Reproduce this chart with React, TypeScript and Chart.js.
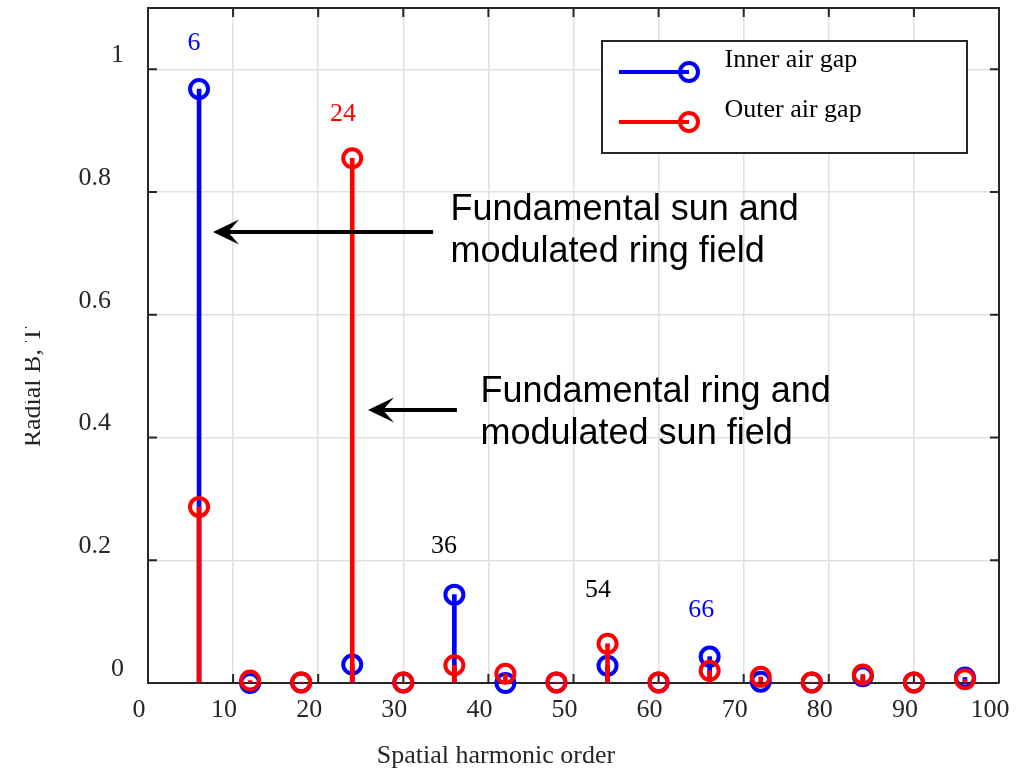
import React, { useEffect, useRef } from "react";
import { Chart, registerables } from "chart.js";

Chart.register(...registerables);

// ---- data ----
const harmonics = [6, 12, 18, 24, 30, 36, 42, 48, 54, 60, 66, 72, 78, 84, 90, 96];
const innerB = [0.968, 0.0, 0.001, 0.03, 0.001, 0.144, 0.0, 0.001, 0.028, 0.001, 0.043, 0.002, 0.001, 0.011, 0.001, 0.009];
const outerB = [0.287, 0.004, 0.001, 0.855, 0.001, 0.029, 0.015, 0.001, 0.064, 0.001, 0.02, 0.01, 0.001, 0.014, 0.001, 0.006];

const seriesNames = ["Inner air gap", "Outer air gap"];
const seriesColors = ["#0000ff", "#ff0000"];

const xTickValues = [0, 10, 20, 30, 40, 50, 60, 70, 80, 90, 100];
const yTickValues = [0, 0.2, 0.4, 0.6, 0.8, 1];
const yTickLabels = ["0", "0.2", "0.4", "0.6", "0.8", "1"];

const xTitle = "Spatial harmonic order";
const yTitle = "Radial B, T";

// harmonic order labels (data coordinates: x, baseline y)
const orderNotes = [
  { text: "6", x: 5.41, y: 1.0316, color: "#0000ff" },
  { text: "24", x: 22.91, y: 0.916, color: "#ff0000" },
  { text: "36", x: 34.78, y: 0.212, color: "#000000" },
  { text: "54", x: 52.88, y: 0.14, color: "#000000" },
  { text: "66", x: 65.0, y: 0.1076, color: "#0000ff" },
];

// arrow callouts (data coordinates)
const arrowNotes = [
  { tipX: 7.64, tailX: 33.5, y: 0.735, textX: 35.55, textY: 0.7546, lines: ["Fundamental sun and", "modulated ring field"] },
  { tipX: 25.85, tailX: 36.3, y: 0.445, textX: 39.07, textY: 0.458, lines: ["Fundamental ring and", "modulated sun field"] },
];

const AXIS = "#262626";
const SERIF = "'Liberation Serif', 'Times New Roman', serif";
const SANS = "'Liberation Sans', Arial, sans-serif";

const zeroPad = () => ({ left: 0, top: 0, right: 0, bottom: 0 });

const decorPlugin = {
  id: "decor",
  beforeDatasetsDraw(chart: any) {
    const { ctx, chartArea: a, scales } = chart;
    const x = scales.x;
    const y = scales.y;
    ctx.save();
    ctx.strokeStyle = AXIS;
    ctx.lineWidth = 2;
    ctx.beginPath();
    ctx.moveTo(a.left, a.top);
    ctx.lineTo(a.right, a.top);
    ctx.lineTo(a.right, a.bottom);
    ctx.stroke();
    const tl = 9;
    ctx.beginPath();
    x.ticks.forEach((t: any) => {
      const px = x.getPixelForValue(t.value);
      ctx.moveTo(px, a.bottom);
      ctx.lineTo(px, a.bottom - tl);
      ctx.moveTo(px, a.top);
      ctx.lineTo(px, a.top + tl);
    });
    y.ticks.forEach((t: any) => {
      const py = y.getPixelForValue(t.value);
      ctx.moveTo(a.left, py);
      ctx.lineTo(a.left + tl, py);
      ctx.moveTo(a.right, py);
      ctx.lineTo(a.right - tl, py);
    });
    ctx.stroke();
    ctx.restore();
  },
  afterDraw(chart: any) {
    const { ctx, chartArea: a, scales } = chart;
    const x = scales.x;
    const y = scales.y;
    ctx.save();

    // harmonic order labels
    ctx.font = `26px ${SERIF}`;
    ctx.textAlign = "center";
    ctx.textBaseline = "alphabetic";
    orderNotes.forEach((n) => {
      ctx.fillStyle = n.color;
      ctx.fillText(n.text, x.getPixelForValue(n.x), y.getPixelForValue(n.y));
    });

    // arrows + callout text
    arrowNotes.forEach((n) => {
      const tip = x.getPixelForValue(n.tipX);
      const tail = x.getPixelForValue(n.tailX);
      const yy = y.getPixelForValue(n.y);
      const L = 26, W = 12.5, notch = 15;
      ctx.strokeStyle = "#000";
      ctx.fillStyle = "#000";
      ctx.lineWidth = 4;
      ctx.beginPath();
      ctx.moveTo(tail, yy);
      ctx.lineTo(tip + notch, yy);
      ctx.stroke();
      ctx.beginPath();
      ctx.moveTo(tip, yy);
      ctx.lineTo(tip + L, yy - W);
      ctx.lineTo(tip + notch, yy);
      ctx.lineTo(tip + L, yy + W);
      ctx.closePath();
      ctx.fill();
      ctx.font = `36px ${SANS}`;
      ctx.textAlign = "left";
      const tx = x.getPixelForValue(n.textX);
      const ty = y.getPixelForValue(n.textY);
      n.lines.forEach((line, i) => ctx.fillText(line, tx, ty + i * 42));
    });

    // legend (series order)
    const bx = a.right - 397, by = a.top + 33, bw = 365, bh = 112;
    ctx.fillStyle = "#ffffff";
    ctx.fillRect(bx, by, bw, bh);
    ctx.strokeStyle = AXIS;
    ctx.lineWidth = 2;
    ctx.strokeRect(bx, by, bw, bh);
    seriesNames.forEach((name, i) => {
      const d = chart.data.datasets.find((ds: any) => ds.type === "line" && ds.label === name);
      const ry = by + 31 + i * 50;
      ctx.strokeStyle = d ? d.borderColor : seriesColors[i];
      ctx.lineWidth = 4;
      ctx.beginPath();
      ctx.moveTo(bx + 17, ry);
      ctx.lineTo(bx + 87, ry);
      ctx.stroke();
      ctx.beginPath();
      ctx.arc(bx + 87, ry, 9, 0, Math.PI * 2);
      ctx.stroke();
      ctx.fillStyle = "#000";
      ctx.font = `26px ${SERIF}`;
      ctx.textAlign = "left";
      ctx.textBaseline = "alphabetic";
      ctx.fillText(name, bx + 122.5, ry - 5);
    });

    // axis titles
    ctx.fillStyle = AXIS;
    ctx.font = `26px ${SERIF}`;
    ctx.textAlign = "center";
    ctx.textBaseline = "alphabetic";
    ctx.fillText(xTitle, 496, 763);

    ctx.save();
    ctx.beginPath();
    ctx.rect(25, 0, 200, chart.height);
    ctx.clip();
    ctx.translate(40, 387);
    ctx.rotate(-Math.PI / 2);
    ctx.fillText(yTitle, 0, 0);
    ctx.restore();

    ctx.restore();
  },
};

export default function App() {
  const ref = useRef<HTMLCanvasElement>(null);
  useEffect(() => {
    const canvas = ref.current;
    if (!canvas) return;
    const tickFont = { family: SERIF, size: 26 };
    const chart = new Chart(canvas, {
      type: "bar",
      data: {
        datasets: [
          {
            type: "line",
            label: seriesNames[1],
            data: harmonics.map((h, i) => ({ x: h, y: outerB[i] })),
            showLine: false,
            borderColor: seriesColors[1],
            backgroundColor: "rgba(0,0,0,0)",
            pointRadius: 9,
            pointBorderWidth: 4,
            pointBackgroundColor: "rgba(0,0,0,0)",
            pointBorderColor: seriesColors[1],
            clip: false,
            order: 1,
          } as any,
          {
            type: "bar",
            label: seriesNames[1] + " stem",
            data: harmonics.map((h, i) => ({ x: h, y: outerB[i] })),
            backgroundColor: seriesColors[1],
            borderWidth: 0,
            barThickness: 4,
            grouped: false,
            clip: false,
            order: 2,
          } as any,
          {
            type: "line",
            label: seriesNames[0],
            data: harmonics.map((h, i) => ({ x: h, y: innerB[i] })),
            showLine: false,
            borderColor: seriesColors[0],
            backgroundColor: "rgba(0,0,0,0)",
            pointRadius: 9,
            pointBorderWidth: 4,
            pointBackgroundColor: "rgba(0,0,0,0)",
            pointBorderColor: seriesColors[0],
            clip: false,
            order: 3,
          } as any,
          {
            type: "bar",
            label: seriesNames[0] + " stem",
            data: harmonics.map((h, i) => ({ x: h, y: innerB[i] })),
            backgroundColor: seriesColors[0],
            borderWidth: 0,
            barThickness: 4,
            grouped: false,
            clip: false,
            order: 4,
          } as any,
        ],
      },
      options: {
        responsive: false,
        animation: false,
        devicePixelRatio: 1,
        layout: { autoPadding: false, padding: { left: 0, right: 28, top: 8, bottom: 0 } },
        plugins: {
          legend: { display: false },
          tooltip: { enabled: false },
          title: { display: false },
        },
        scales: {
          x: {
            type: "linear",
            min: 0,
            max: 100,
            offset: false,
            afterBuildTicks: (s: any) => {
              s.ticks = xTickValues.map((v) => ({ value: v }));
            },
            afterFit: (s: any) => {
              s.height = 88;
              s.paddingLeft = 0;
              s.paddingRight = 0;
              s.paddingTop = 0;
              s.paddingBottom = 0;
              s.getPadding = zeroPad;
            },
            grid: { color: "#e0e0e0", lineWidth: 1.5, drawTicks: false, offset: false },
            border: { display: true, color: AXIS, width: 2 },
            ticks: {
              font: tickFont,
              color: AXIS,
              padding: 12,
              labelOffset: -9,
              maxRotation: 0,
              autoSkip: false,
              includeBounds: false,
              callback: (v: any) => String(v),
            },
          },
          y: {
            type: "linear",
            min: 0,
            max: 1.1,
            afterBuildTicks: (s: any) => {
              s.ticks = yTickValues.map((v) => ({ value: v }));
            },
            afterFit: (s: any) => {
              s.width = 148;
              s.paddingLeft = 0;
              s.paddingRight = 0;
              s.paddingTop = 0;
              s.paddingBottom = 0;
              s.getPadding = zeroPad;
            },
            grid: { color: "#e0e0e0", lineWidth: 1.5, drawTicks: false },
            border: { display: true, color: AXIS, width: 2 },
            ticks: {
              font: tickFont,
              color: AXIS,
              padding: 24,
              labelOffset: -14,
              autoSkip: false,
              includeBounds: false,
              callback: (_v: any, i: number) => {
                const t = yTickLabels[i];
                return t.indexOf(".") >= 0 ? t + "  " : t;
              },
            },
          },
        },
      },
      plugins: [decorPlugin],
    } as any);
    return () => chart.destroy();
  }, []);
  return (
    <div style={{ position: "fixed", left: 0, top: 0, width: 1027, height: 771, background: "#ffffff" }}>
      <canvas ref={ref} width={1027} height={771} style={{ display: "block", width: 1027, height: 771 }} />
    </div>
  );
}
